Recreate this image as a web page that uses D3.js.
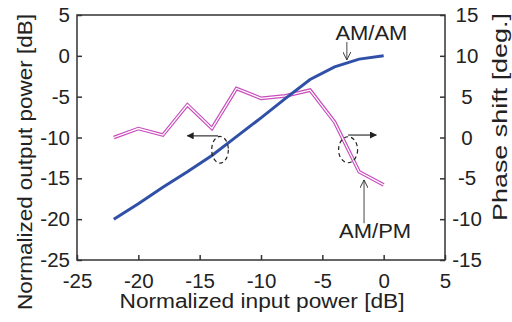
<!DOCTYPE html>
<html>
<head>
<meta charset="utf-8">
<script src="https://cdn.jsdelivr.net/npm/d3@7"></script>
<style>
  body { margin: 0; background: #fff; }
  svg text { font-family: "Liberation Sans", Arial, sans-serif; fill: #222; }
</style>
</head>
<body>
<svg id="chart" width="512" height="322"></svg>
<script>
/* Data */
var inputDb = [-22, -20, -18, -16, -14, -12, -10, -8, -6, -4, -2, 0];
var amam = [-20, -18.1, -16.1, -14.2, -12.2, -9.9, -7.6, -5.2, -2.9, -1.35, -0.4, 0];
var ampm = [0, 1.1, 0.3, 4, 1.1, 6, 4.8, 5.1, 5.8, 1.9, -4.2, -5.8];

var xTicks = [-25, -20, -15, -10, -5, 0, 5];
var yLeftTicks = [-25, -20, -15, -10, -5, 0, 5];
var yRightTicks = [-15, -10, -5, 0, 5, 10, 15];

/* Scales */
var x = d3.scaleLinear().domain([-25, 5]).range([77, 445]);
var yL = d3.scaleLinear().domain([-25, 5]).range([260, 15]);
var yR = d3.scaleLinear().domain([-15, 15]).range([260, 15]);

var svg = d3.select("svg#chart");
var axisColor = "#333";

// frame
svg.append("rect")
  .attr("x", 77).attr("y", 15)
  .attr("width", 445 - 77).attr("height", 260 - 15)
  .attr("fill", "none")
  .attr("stroke", axisColor)
  .attr("stroke-width", 1.5);

var gx = svg.append("g")
  .attr("transform", "translate(0,260)")
  .call(d3.axisBottom(x).tickValues(xTicks).tickSize(-5).tickPadding(13).tickFormat(d3.format("d")));

var gl = svg.append("g")
  .attr("transform", "translate(77,0)")
  .call(d3.axisLeft(yL).tickValues(yLeftTicks).tickSize(-5).tickPadding(7).tickFormat(d3.format("d")));

var gr = svg.append("g")
  .attr("transform", "translate(445,0)")
  .call(d3.axisRight(yR).tickValues(yRightTicks).tickSize(-5).tickPadding(22).tickFormat(d3.format("d")));

[gx, gl, gr].forEach(g => {
  g.select(".domain").remove();
  g.selectAll(".tick line").attr("stroke", axisColor).attr("stroke-width", 1.5);
  g.selectAll(".tick text")
    .attr("font-size", 20.5)
    .attr("font-family", "Liberation Sans, Arial, sans-serif")
    .attr("fill", "#222")
    .text(d => String(d).replace("\u2212", "-"));
});
gr.selectAll(".tick text").attr("text-anchor", "middle");

/* Axis titles */
svg.append("text")
  .attr("x", 262).attr("y", 308)
  .attr("text-anchor", "middle")
  .attr("font-size", 20)
  .attr("textLength", 285)
  .attr("lengthAdjust", "spacingAndGlyphs")
  .text("Normalized input power [dB]");

svg.append("text")
  .attr("transform", "translate(32,162) rotate(-90)")
  .attr("text-anchor", "middle")
  .attr("font-size", 20)
  .attr("textLength", 296)
  .attr("lengthAdjust", "spacingAndGlyphs")
  .text("Normalized output power [dB]");

svg.append("text")
  .attr("transform", "translate(507,117) rotate(-90)")
  .attr("text-anchor", "middle")
  .attr("font-size", 20)
  .attr("textLength", 208)
  .attr("lengthAdjust", "spacingAndGlyphs")
  .text("Phase shift [deg.]");

/* Lines */
var amamLine = d3.line()
  .x((d, i) => x(inputDb[i]))
  .y(d => yL(d));

var ampmLine = d3.line()
  .x((d, i) => x(inputDb[i]))
  .y(d => yR(d));

// AM/PM: double line (magenta outline, white core)
svg.append("path")
  .attr("d", ampmLine(ampm))
  .attr("fill", "none")
  .attr("stroke", "#c84cbc")
  .attr("stroke-width", 3.6);
svg.append("path")
  .attr("d", ampmLine(ampm))
  .attr("fill", "none")
  .attr("stroke", "#fff")
  .attr("stroke-width", 1.3);

svg.append("path")
  .attr("d", amamLine(amam))
  .attr("fill", "none")
  .attr("stroke", "#3050a8")
  .attr("stroke-width", 3);

/* Annotations */
var defs = svg.append("defs");
defs.append("marker")
  .attr("id", "filled")
  .attr("viewBox", "0 0 10 10")
  .attr("refX", 9).attr("refY", 5)
  .attr("markerWidth", 9).attr("markerHeight", 7)
  .attr("markerUnits", "userSpaceOnUse")
  .attr("orient", "auto")
  .append("path")
  .attr("d", "M0,0 L10,5 L0,10 Z")
  .attr("fill", "#222");
defs.append("marker")
  .attr("id", "open")
  .attr("viewBox", "0 0 10 10")
  .attr("refX", 10).attr("refY", 5)
  .attr("markerWidth", 9).attr("markerHeight", 8)
  .attr("markerUnits", "userSpaceOnUse")
  .attr("orient", "auto")
  .append("path")
  .attr("d", "M0,0 L10,5 L0,10")
  .attr("fill", "none")
  .attr("stroke", "#333")
  .attr("stroke-width", 1.2);

// dashed ellipses with direction arrows
svg.append("ellipse")
  .attr("cx", x(-13.34)).attr("cy", yL(-11.5))
  .attr("rx", 8.3).attr("ry", 13.3)
  .attr("fill", "none").attr("stroke", "#222")
  .attr("stroke-width", 1.2).attr("stroke-dasharray", "4,3");
svg.append("line")
  .attr("x1", x(-13.5)).attr("y1", yL(-9.8))
  .attr("x2", x(-16)).attr("y2", yL(-9.8))
  .attr("stroke", "#333").attr("stroke-width", 1.2)
  .attr("marker-end", "url(#filled)");

svg.append("ellipse")
  .attr("cx", x(-2.9)).attr("cy", yR(-1.5))
  .attr("rx", 9.5).attr("ry", 13)
  .attr("fill", "none").attr("stroke", "#222")
  .attr("stroke-width", 1.2).attr("stroke-dasharray", "4,3");
svg.append("line")
  .attr("x1", x(-2.9)).attr("y1", yR(0.3))
  .attr("x2", x(-0.6)).attr("y2", yR(0.3))
  .attr("stroke", "#333").attr("stroke-width", 1.2)
  .attr("marker-end", "url(#filled)");

// AM/AM label
svg.append("text")
  .attr("x", x(-1)).attr("y", yL(2))
  .attr("text-anchor", "middle")
  .attr("font-size", 20.5)
  .attr("textLength", 72)
  .attr("lengthAdjust", "spacingAndGlyphs")
  .text("AM/AM");
svg.append("line")
  .attr("x1", x(-3)).attr("y1", yL(1.7))
  .attr("x2", x(-3)).attr("y2", yL(-0.5))
  .attr("stroke", "#333").attr("stroke-width", 0.9)
  .attr("marker-end", "url(#open)");

// AM/PM label
svg.append("text")
  .attr("x", x(-0.7)).attr("y", yR(-12.3))
  .attr("text-anchor", "middle")
  .attr("font-size", 20.5)
  .attr("textLength", 72)
  .attr("lengthAdjust", "spacingAndGlyphs")
  .text("AM/PM");
svg.append("line")
  .attr("x1", x(-1.6)).attr("y1", yR(-10.5))
  .attr("x2", x(-1.6)).attr("y2", yR(-5.2))
  .attr("stroke", "#333").attr("stroke-width", 0.9)
  .attr("marker-end", "url(#open)");
</script>
</body>
</html>
